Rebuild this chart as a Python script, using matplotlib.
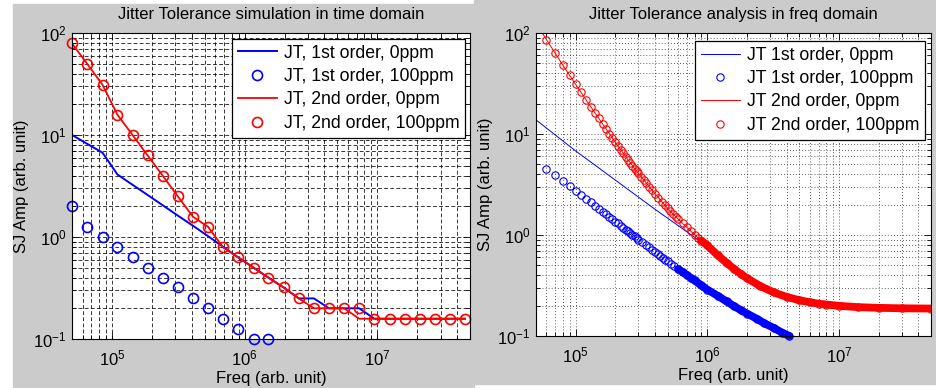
import matplotlib
matplotlib.use('Agg')
import matplotlib.pyplot as plt
from matplotlib.patches import Rectangle
from matplotlib.ticker import LogLocator, NullFormatter

plt.rcParams['font.family'] = ['Liberation Sans', 'DejaVu Sans']
plt.rcParams['mathtext.fontset'] = 'custom'
plt.rcParams['mathtext.rm'] = 'Liberation Sans'
plt.rcParams['mathtext.it'] = 'Liberation Sans:italic'
plt.rcParams['mathtext.bf'] = 'Liberation Sans:bold'

# ---- time domain simulation (left) ----
td_freq = [5.0e4, 6.5e4, 8.5e4, 1.1e5, 1.43e5, 1.86e5, 2.41e5, 3.14e5, 4.08e5,
           5.3e5, 6.89e5, 8.96e5, 1.17e6, 1.51e6, 1.97e6, 2.56e6, 3.33e6, 4.33e6,
           5.63e6, 7.31e6, 9.51e6, 1.24e7, 1.61e7, 2.09e7, 2.72e7, 3.53e7, 4.59e7]
td_1st_0ppm = [10.0, 8.2, 6.7, 4.1, 3.25, 2.58, 2.05, 1.62, 1.29, 1.02, 0.80,
               0.63, 0.5, 0.4, 0.32, 0.25, 0.25, 0.2, 0.2, 0.2, 0.158, 0.158,
               0.158, 0.158, 0.158, 0.158, 0.158]
td_1st_100ppm = [2.0, 1.25, 1.0, 0.8, 0.63, 0.5, 0.4, 0.32, 0.25, 0.2, 0.158,
                 0.126, 0.1, 0.1]
td_2nd_0ppm = [79, 50, 31, 15.8, 10.0, 6.3, 4.0, 2.5, 1.58, 1.26, 0.79, 0.63,
               0.5, 0.4, 0.32, 0.25, 0.2, 0.2, 0.2, 0.158, 0.158, 0.158, 0.158,
               0.158, 0.158, 0.158, 0.158]
td_2nd_100ppm = [79, 50, 31, 15.8, 10.0, 6.3, 4.0, 2.5, 1.58, 1.26, 0.79, 0.63,
                 0.5, 0.4, 0.32, 0.25, 0.2, 0.2, 0.2, 0.2, 0.158, 0.158, 0.158,
                 0.158, 0.158, 0.158, 0.158]

# ---- frequency domain analysis (right) ----
fd_line_freq = [5e4, 1e5, 2e5, 4e5, 6e5, 8e5, 1e6]
fd_1st_0ppm = [13.8, 6.8, 3.5, 1.8, 1.24, 0.95, 0.77]

fd_blue_freq = [6e4, 7e4, 8e4, 9e4, 1e5, 1.1e5, 1.2e5, 1.3e5, 1.4e5, 1.5e5,
                1.6e5, 1.7e5, 1.8e5, 1.9e5, 2e5, 2.1e5, 2.2e5, 2.3e5, 2.4e5,
                2.5e5, 2.6e5, 2.7e5, 2.8e5, 2.9e5, 3e5, 3.2e5, 3.4e5, 3.6e5,
                3.8e5, 4e5, 4.2e5, 4.4e5, 4.6e5, 4.8e5, 5e5, 5.3e5, 5.6e5, 6e5,
                6.5e5, 7e5, 7.5e5, 8e5, 9e5, 1e6, 1.2e6, 1.4e6, 1.6e6, 1.8e6,
                2e6, 2.4e6, 2.7e6, 3.2e6, 3.7e6, 4.2e6]
fd_1st_100ppm = [4.5, 3.9, 3.4, 3.05, 2.75, 2.5, 2.29, 2.1, 1.95, 1.82, 1.7,
                 1.6, 1.51, 1.43, 1.36, 1.30, 1.24, 1.18, 1.13, 1.09, 1.05,
                 1.01, 0.97, 0.94, 0.90, 0.85, 0.80, 0.755, 0.715, 0.68, 0.65,
                 0.62, 0.59, 0.57, 0.55, 0.52, 0.49, 0.46, 0.43, 0.40, 0.375,
                 0.355, 0.317, 0.288, 0.25, 0.22, 0.197, 0.18, 0.167, 0.147,
                 0.134, 0.12, 0.108, 0.1]

fd_red_freq = [5e4, 6e4, 7e4, 8e4, 9e4, 1e5, 1.1e5, 1.2e5, 1.3e5, 1.4e5, 1.5e5,
               1.6e5, 1.7e5, 1.8e5, 1.9e5, 2e5, 2.1e5, 2.2e5, 2.3e5, 2.4e5,
               2.5e5, 2.6e5, 2.7e5, 2.8e5, 2.9e5, 3e5, 3.15e5, 3.3e5, 3.45e5,
               3.6e5, 3.8e5, 4e5, 4.25e5, 4.5e5, 4.75e5, 5e5, 5.25e5, 5.5e5,
               5.75e5, 6e5, 6.5e5, 7e5, 7.5e5, 8e5, 8.5e5, 9e5, 1e6, 1.2e6,
               1.4e6, 1.6e6, 1.8e6, 2e6, 2.5e6, 3.2e6, 4e6, 5e6, 6e6, 7e6, 8e6,
               1e7, 1.4e7, 2e7, 3e7, 5e7]
fd_2nd = [125, 86, 63, 48, 38, 31, 25.8, 21.8, 18.7, 16.2, 14.3, 12.6, 11.3,
          10.1, 9.1, 8.3, 7.6, 7.0, 6.47, 5.98, 5.55, 5.2, 4.86, 4.55, 4.3,
          4.07, 3.77, 3.5, 3.26, 3.02, 2.79, 2.57, 2.35, 2.14, 1.98, 1.84,
          1.72, 1.61, 1.52, 1.44, 1.30, 1.19, 1.09, 1.01, 0.94, 0.88, 0.79,
          0.63, 0.53, 0.46, 0.41, 0.374, 0.314, 0.27, 0.244, 0.226, 0.216,
          0.209, 0.205, 0.199, 0.193, 0.19, 0.188, 0.187]

W, H = 936, 388
fig = plt.figure(figsize=(W / 100, H / 100), dpi=100)
fig.patch.set_facecolor('white')
# grey window backgrounds of the two screenshots
fig.add_artist(Rectangle((13 / W, 0), (474 - 13) / W, (H - 4) / H,
                         transform=fig.transFigure, color='#cbcbcb', zorder=-10))
fig.add_artist(Rectangle((474 / W, 4 / H), (W - 474) / W, (H - 4) / H,
                         transform=fig.transFigure, color='#cbcbcb', zorder=-10))

FS = 12


def setup_axes(ax, title, grid_ls):
    ax.set_xscale('log')
    ax.set_yscale('log')
    ax.set_xlim(5e4, 5e7)
    ax.set_ylim(0.1, 100)
    ax.xaxis.set_major_locator(LogLocator(base=10, numticks=10))
    ax.yaxis.set_major_locator(LogLocator(base=10, numticks=10))
    ax.xaxis.set_minor_locator(LogLocator(base=10, subs=range(2, 10), numticks=20))
    ax.yaxis.set_minor_locator(LogLocator(base=10, subs=range(2, 10), numticks=20))
    ax.xaxis.set_minor_formatter(NullFormatter())
    ax.yaxis.set_minor_formatter(NullFormatter())
    ax.tick_params(which='both', direction='in', top=True, right=True,
                   labelsize=12, width=0.6)
    ax.tick_params(axis='x', pad=7)
    ax.tick_params(axis='y', pad=4)
    ax.tick_params(which='major', length=5)
    ax.tick_params(which='minor', length=3)
    ax.grid(True, which='both', color='k', linewidth=0.55, linestyle=grid_ls)
    for s in ax.spines.values():
        s.set_linewidth(0.8)
    ax.set_title(title, fontsize=FS, pad=10)
    ax.set_xlabel('Freq (arb. unit)', fontsize=FS, labelpad=2)
    ax.set_ylabel('SJ Amp (arb. unit)', fontsize=FS, labelpad=3)


def add_legend(ax, anchor):
    leg = ax.legend(loc='upper right', bbox_to_anchor=anchor, borderaxespad=0,
                    fancybox=False, framealpha=1, edgecolor='k', fontsize=12.7,
                    numpoints=1, handlelength=2.2, handletextpad=0.4,
                    labelspacing=0.36, borderpad=0.33)
    leg.get_frame().set_linewidth(0.9)


# ---- left ----
ax1 = fig.add_axes([72 / W, (H - 339) / H, (470 - 72) / W, 306 / H])
setup_axes(ax1, 'Jitter Tolerance simulation in time domain', (0, (5, 3)))
ax1.plot(td_freq, td_1st_0ppm, color='b', lw=1.4, label='JT, 1st order, 0ppm')
ax1.plot(td_freq[:len(td_1st_100ppm)], td_1st_100ppm, 'o', color='b', mfc='none',
         ms=7.2, mew=1.2, clip_on=False, label='JT, 1st order, 100ppm')
ax1.plot(td_freq, td_2nd_0ppm, color='r', lw=1.3, label='JT, 2nd order, 0ppm')
ax1.plot(td_freq, td_2nd_100ppm, 'o', color='r', mfc='none', ms=7.2, mew=1.2,
         clip_on=False, label='JT, 2nd order, 100ppm')
add_legend(ax1, (0.988, 0.981))

# ---- right ----
ax2 = fig.add_axes([536 / W, (H - 336) / H, (931 - 536) / W, 303 / H])
setup_axes(ax2, 'Jitter Tolerance analysis in freq domain', (0, (1, 3)))
ax2.plot(fd_line_freq, fd_1st_0ppm, color='b', lw=0.7, label='JT 1st order, 0ppm')
ax2.plot(fd_blue_freq, fd_1st_100ppm, 'o', color='b', mfc='none', ms=5.3,
         mew=0.8, clip_on=False, label='JT 1st order, 100ppm')
# dense sampling merges the circles into a solid band
blue_band = [i for i, f in enumerate(fd_blue_freq) if f >= 6e5]
ax2.plot([fd_blue_freq[i] for i in blue_band], [fd_1st_100ppm[i] for i in blue_band],
         color='b', lw=5.6, solid_capstyle='round', clip_on=False)
ax2.plot(fd_red_freq, fd_2nd, color='r', lw=0.7, label='JT 2nd order, 0ppm')
ax2.plot(fd_red_freq, fd_2nd, 'o', color='r', mfc='none', ms=5.3, mew=0.8,
         label='JT 2nd order, 100ppm')
red_band = [i for i, f in enumerate(fd_red_freq) if f >= 9e5]
ax2.plot([fd_red_freq[i] for i in red_band], [fd_2nd[i] for i in red_band],
         color='r', lw=5.6, solid_capstyle='round')
add_legend(ax2, (0.985, 0.974))

fig.savefig('out.png', dpi=100)
